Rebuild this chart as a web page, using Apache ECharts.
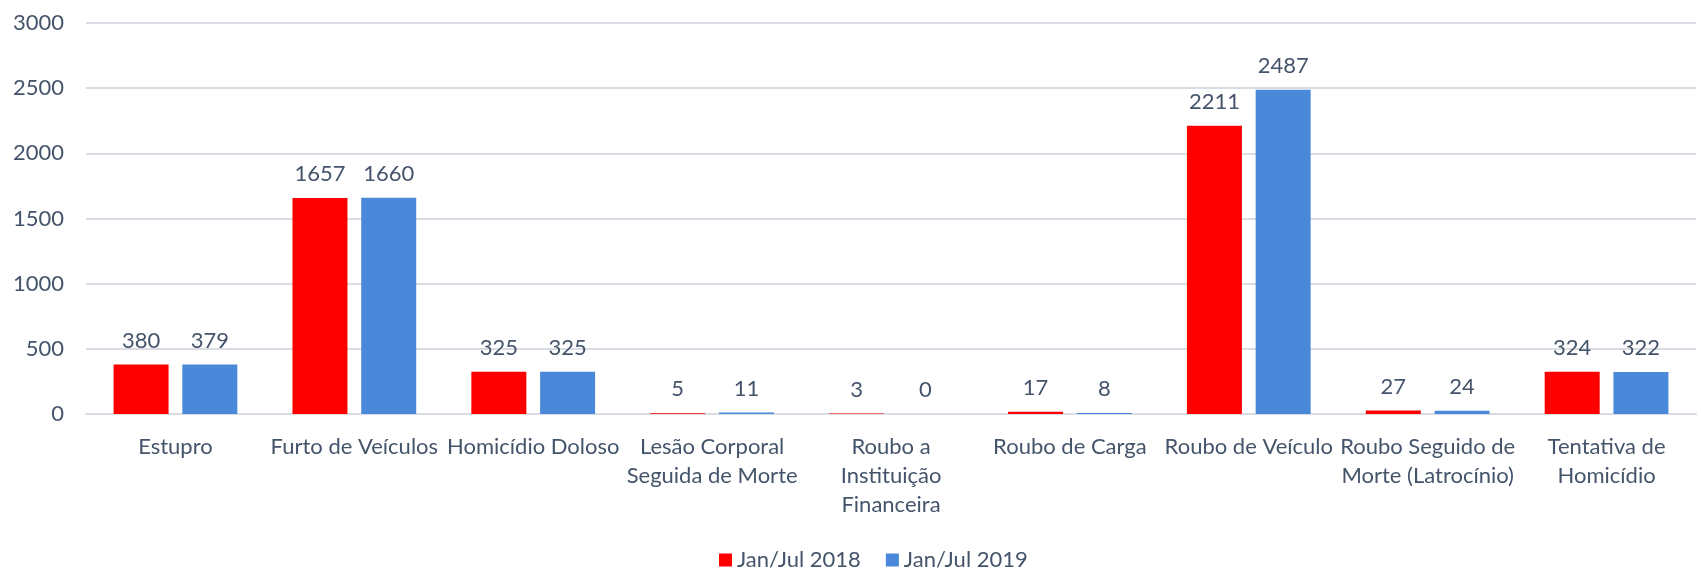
<!DOCTYPE html>
<html>
<head>
<meta charset="utf-8">
<script src="https://cdn.jsdelivr.net/npm/echarts@6/dist/echarts.min.js"></script>
<style>
  html, body { margin: 0; padding: 0; background: #fff; }
  #chart { width: 1701px; height: 568px; }
</style>
</head>
<body>
<div id="chart"></div>
<script>
// categorias (rótulos com quebras de linha como no original)
const categories = [
  'Estupro',
  'Furto de Veículos',
  'Homicídio Doloso',
  'Lesão Corporal\nSeguida de Morte',
  'Roubo a\nInstituição\nFinanceira',
  'Roubo de Carga',
  'Roubo de Veículo',
  'Roubo Seguido de\nMorte (Latrocínio)',
  'Tentativa de\nHomicídio'
];
const seriesNames = ['Jan/Jul 2018', 'Jan/Jul 2019'];
const values2018 = [380, 1657, 325, 5, 3, 17, 2211, 27, 324];
const values2019 = [379, 1660, 325, 11, 0, 8, 2487, 24, 322];

const textColor = '#44546A';
const fontFamily = 'Lato, "Open Sans", sans-serif';

const chart = echarts.init(document.getElementById('chart'));

const labelStyle = {
  show: true,
  position: 'top',
  distance: 13,
  color: textColor,
  fontSize: 22,
  fontFamily: fontFamily
};

const option = {
  animation: false,
  textStyle: { fontFamily: fontFamily },
  grid: { left: 86, right: 5, top: 23, bottom: 154 },
  legend: {
    top: 544,
    left: 714,
    icon: 'rect',
    itemWidth: 13,
    itemHeight: 13,
    itemGap: 25,
    textStyle: { color: textColor, fontSize: 22, fontFamily: fontFamily },
    data: seriesNames
  },
  xAxis: {
    type: 'category',
    data: categories,
    axisLine: { lineStyle: { color: '#D9DDE3', width: 2 } },
    axisTick: { show: false },
    axisLabel: {
      interval: 0,
      color: textColor,
      fontSize: 22,
      fontFamily: fontFamily,
      lineHeight: 29,
      margin: 18,
      align: 'center'
    }
  },
  yAxis: {
    type: 'value',
    min: 0,
    max: 3000,
    interval: 500,
    axisLine: { show: false },
    axisTick: { show: false },
    splitLine: { lineStyle: { color: '#D9DDE3', width: 2 } },
    axisLabel: {
      color: textColor,
      fontSize: 22,
      fontFamily: fontFamily,
      margin: 22,
      formatter: (v) => String(v)
    }
  },
  series: [
    {
      name: seriesNames[0],
      type: 'bar',
      data: values2018,
      barWidth: 55,
      barGap: '25%',
      itemStyle: { color: '#FF0000' },
      label: labelStyle
    },
    {
      name: seriesNames[1],
      type: 'bar',
      data: values2019,
      barWidth: 55,
      itemStyle: { color: '#4A89D9' },
      label: labelStyle
    }
  ]
};

chart.setOption(option);
</script>
</body>
</html>
